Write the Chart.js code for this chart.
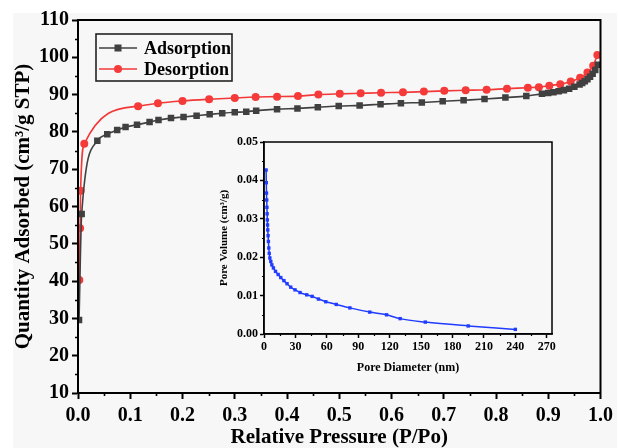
<!DOCTYPE html>
<html>
<head>
<meta charset="utf-8">
<script src="https://cdn.jsdelivr.net/npm/chart.js@4.4.1/dist/chart.umd.min.js"></script>
<style>
  html, body { margin: 0; padding: 0; background: #fff; }
  #wrap { position: relative; width: 618px; height: 448px; overflow: hidden; }
  #mainChart { position: absolute; left: 0; top: 0; }
  #poreChart { position: absolute; left: 200px; top: 130px; }
</style>
</head>
<body>
<div id="wrap">
  <canvas id="mainChart" width="618" height="448"></canvas>
  <canvas id="poreChart" width="360" height="245"></canvas>
</div>
<script>
// isotherm: relative pressure vs quantity adsorbed
const adsP = [0.002, 0.007, 0.037, 0.056, 0.075, 0.091, 0.113, 0.137, 0.154, 0.178, 0.202, 0.227, 0.252, 0.276, 0.300, 0.322, 0.341, 0.381, 0.420, 0.459, 0.499, 0.539, 0.579, 0.618, 0.658, 0.698, 0.738, 0.778, 0.818, 0.858, 0.888, 0.900, 0.910, 0.920, 0.930, 0.940, 0.950, 0.960, 0.965, 0.970, 0.975, 0.980, 0.985, 0.990, 0.995];
const adsQ = [29.6, 58.0, 77.6, 79.4, 80.5, 81.3, 81.9, 82.65, 83.2, 83.7, 84.0, 84.35, 84.7, 85.0, 85.25, 85.4, 85.7, 86.1, 86.3, 86.6, 86.95, 87.1, 87.4, 87.7, 87.9, 88.2, 88.5, 88.8, 89.2, 89.6, 90.2, 90.4, 90.6, 90.9, 91.2, 91.6, 92.1, 92.7, 93.1, 93.6, 94.1, 94.8, 95.6, 96.6, 98.0];

const desP = [0.0025, 0.004, 0.005, 0.012, 0.115, 0.153, 0.200, 0.251, 0.300, 0.340, 0.381, 0.421, 0.460, 0.501, 0.541, 0.580, 0.622, 0.662, 0.701, 0.742, 0.782, 0.821, 0.861, 0.882, 0.902, 0.923, 0.943, 0.961, 0.975, 0.986, 0.994];
const desQ = [40.3, 54.2, 64.2, 76.8, 86.9, 87.7, 88.3, 88.75, 89.1, 89.35, 89.45, 89.6, 90.0, 90.2, 90.35, 90.5, 90.6, 90.8, 91.0, 91.15, 91.3, 91.6, 91.85, 92.0, 92.4, 92.8, 93.5, 94.5, 95.9, 97.75, 100.6];

// pore size distribution (inset)
const poreD = [2.0, 2.2, 2.4, 2.6, 2.8, 3.0, 3.2, 3.4, 3.6, 3.9, 4.2, 4.6, 5.0, 5.6, 6.5, 7.5, 9, 11, 13.5, 16, 19, 22, 25.5, 29.6, 34.4, 40.8, 46, 52, 59, 69, 82, 101, 117, 130, 154, 195, 240];
const poreV = [0.0427, 0.0394, 0.0367, 0.0349, 0.0330, 0.0313, 0.0297, 0.0284, 0.0271, 0.0256, 0.0241, 0.0224, 0.0210, 0.0198, 0.0189, 0.0180, 0.0172, 0.0163, 0.0155, 0.0147, 0.0139, 0.0131, 0.0122, 0.0115, 0.0108, 0.0102, 0.0098, 0.0091, 0.0084, 0.0077, 0.0068, 0.0057, 0.0050, 0.0040, 0.0031, 0.0021, 0.0012];

// tick labels
const pTicks = [0, 0.1, 0.2, 0.3, 0.4, 0.5, 0.6, 0.7, 0.8, 0.9, 1.0];
const qTicks = [10, 20, 30, 40, 50, 60, 70, 80, 90, 100, 110];
const dTicks = [0, 30, 60, 90, 120, 150, 180, 210, 240, 270];
const vTicks = [0, 0.01, 0.02, 0.03, 0.04, 0.05];

const serif = "'Liberation Serif', 'Times New Roman', serif";
const toXY = (xs, ys) => xs.map((x, i) => ({ x: x, y: ys[i] }));

// frame, background and minor ticks
const framePlugin = {
  id: 'frame',
  beforeDraw(chart, args, opts) {
    if (!opts.bg) return;
    const ctx = chart.ctx;
    ctx.save();
    ctx.fillStyle = opts.bg;
    ctx.fillRect(opts.bgRect[0], opts.bgRect[1], opts.bgRect[2], opts.bgRect[3]);
    ctx.restore();
  },
  afterDraw(chart, args, opts) {
    const ctx = chart.ctx, a = chart.chartArea;
    const xs = chart.scales.x, ys = chart.scales.y;
    ctx.save();
    ctx.strokeStyle = '#000';
    ctx.lineWidth = opts.width;
    ctx.strokeRect(a.left, a.top, a.right - a.left, a.bottom - a.top);
    ctx.lineWidth = opts.minorWidth;
    ctx.beginPath();
    for (let i = 0; i < xs.ticks.length - 1; i++) {
      const px = Math.round(xs.getPixelForValue((xs.ticks[i].value + xs.ticks[i + 1].value) / 2)) + 0.5;
      ctx.moveTo(px, a.bottom);
      ctx.lineTo(px, a.bottom + opts.minorLen);
    }
    for (let i = 0; i < ys.ticks.length - 1; i++) {
      const py = Math.round(ys.getPixelForValue((ys.ticks[i].value + ys.ticks[i + 1].value) / 2)) + 0.5;
      ctx.moveTo(a.left, py);
      ctx.lineTo(a.left - opts.minorLen, py);
    }
    ctx.stroke();
    ctx.restore();
  }
};

// legend box drawn inside the plot
const boxLegend = {
  id: 'boxLegend',
  afterDraw(chart, args, opts) {
    const ctx = chart.ctx;
    ctx.save();
    ctx.strokeStyle = '#222';
    ctx.lineWidth = 1.6;
    ctx.strokeRect(opts.x, opts.y, opts.w, opts.h);
    ctx.font = 'bold 18px ' + serif;
    ctx.textBaseline = 'middle';
    ctx.fillStyle = '#000';
    chart.data.datasets.forEach((ds, i) => {
      const ry = opts.y + 14 + i * 21;
      ctx.strokeStyle = ds.borderColor;
      ctx.lineWidth = 1.6;
      ctx.beginPath();
      ctx.moveTo(opts.x + 3, ry);
      ctx.lineTo(opts.x + 41, ry);
      ctx.stroke();
      ctx.fillStyle = ds.pointBackgroundColor;
      const cx = opts.x + 22;
      if (ds.pointStyle === 'rect') {
        ctx.fillRect(cx - 3.5, ry - 3.5, 7, 7);
      } else {
        ctx.beginPath();
        ctx.arc(cx, ry, ds.pointRadius, 0, Math.PI * 2);
        ctx.fill();
      }
      ctx.fillStyle = '#000';
      ctx.fillText(ds.label, opts.x + 48, ry + 1);
    });
    ctx.restore();
  }
};

new Chart(document.getElementById('mainChart'), {
  type: 'scatter',
  data: {
    datasets: [
      {
        label: 'Adsorption',
        data: toXY(adsP, adsQ),
        showLine: true,
        borderColor: '#404040',
        backgroundColor: '#404040',
        pointBackgroundColor: '#404040',
        pointBorderWidth: 0,
        pointStyle: 'rect',
        pointRadius: 4.6,
        borderWidth: 1.6,
        cubicInterpolationMode: 'monotone'
      },
      {
        label: 'Desorption',
        data: toXY(desP, desQ),
        showLine: true,
        borderColor: '#f23838',
        backgroundColor: '#f23838',
        pointBackgroundColor: '#f53a3a',
        pointBorderWidth: 0,
        pointStyle: 'circle',
        pointRadius: 4,
        borderWidth: 1.6,
        cubicInterpolationMode: 'monotone'
      }
    ]
  },
  options: {
    responsive: false,
    animation: false,
    devicePixelRatio: 1,
    layout: { padding: { top: 20, right: 14, left: 0, bottom: 0 } },
    scales: {
      x: {
        type: 'linear',
        min: 0, max: 1,
        afterBuildTicks: s => { s.ticks = pTicks.map(v => ({ value: v })); },
        afterFit: s => { s.height = 55; },
        ticks: {
          autoSkip: false, maxRotation: 0, padding: 5, color: '#000',
          font: { family: serif, size: 20, weight: 'bold' },
          callback: v => v.toFixed(1)
        },
        grid: { drawOnChartArea: false, drawTicks: true, tickLength: 6, tickWidth: 2, tickColor: '#000' },
        border: { display: true, color: '#000', width: 2 },
        title: {
          display: true, text: 'Relative Pressure (P/Po)', color: '#000',
          font: { family: serif, size: 21, weight: 'bold', lineHeight: 1 },
          padding: { top: 0, bottom: 0 }
        }
      },
      y: {
        type: 'linear',
        min: 10, max: 110,
        afterBuildTicks: s => { s.ticks = qTicks.map(v => ({ value: v })); },
        afterFit: s => { s.width = 78; },
        ticks: {
          autoSkip: false, padding: 3, color: '#000',
          font: { family: serif, size: 20, weight: 'bold' },
          callback: v => String(v)
        },
        grid: { drawOnChartArea: false, drawTicks: true, tickLength: 6, tickWidth: 2, tickColor: '#000' },
        border: { display: true, color: '#000', width: 2 },
        title: {
          display: true, text: 'Quantity Adsorbed (cm\u00b3/g STP)', color: '#000',
          font: { family: serif, size: 21, weight: 'bold' },
          padding: { top: 11, bottom: 0 }
        }
      }
    },
    plugins: {
      legend: { display: false },
      tooltip: { enabled: false },
      frame: { bg: '#f7f7f7', bgRect: [13, 13, 604, 435], width: 2, minorWidth: 1.6, minorLen: 3 },
      boxLegend: { x: 96, y: 34, w: 136, h: 47 }
    }
  },
  plugins: [framePlugin, boxLegend]
});

new Chart(document.getElementById('poreChart'), {
  type: 'scatter',
  data: {
    datasets: [{
      label: 'Pore Volume',
      data: toXY(poreD, poreV),
      showLine: true,
      borderColor: '#1f3cff',
      backgroundColor: '#1f3cff',
      pointBackgroundColor: '#1f3cff',
      pointBorderWidth: 0,
      pointStyle: 'rect',
      pointRadius: 2.4,
      borderWidth: 1.5,
      cubicInterpolationMode: 'monotone'
    }]
  },
  options: {
    responsive: false,
    animation: false,
    devicePixelRatio: 1,
    layout: { padding: { top: 12, right: 8, left: 0, bottom: 0 } },
    scales: {
      x: {
        type: 'linear',
        min: 0, max: 275,
        afterBuildTicks: s => { s.ticks = dTicks.map(v => ({ value: v })); },
        afterFit: s => { s.height = 41; },
        ticks: {
          autoSkip: false, maxRotation: 0, padding: 2, color: '#000',
          font: { family: serif, size: 12, weight: 'bold' },
          callback: v => String(v)
        },
        grid: { drawOnChartArea: false, drawTicks: true, tickLength: 4, tickWidth: 1.5, tickColor: '#000' },
        border: { display: true, color: '#000', width: 1.5 },
        title: {
          display: true, text: 'Pore Diameter (nm)', color: '#000',
          font: { family: serif, size: 12, weight: 'bold' },
          padding: { top: 5, bottom: 0 }
        }
      },
      y: {
        type: 'linear',
        min: 0, max: 0.05,
        afterBuildTicks: s => { s.ticks = vTicks.map(v => ({ value: v })); },
        afterFit: s => { s.width = 64; },
        ticks: {
          autoSkip: false, padding: 2, color: '#000',
          font: { family: serif, size: 12, weight: 'bold' },
          callback: v => v.toFixed(2)
        },
        grid: { drawOnChartArea: false, drawTicks: true, tickLength: 4, tickWidth: 1.5, tickColor: '#000' },
        border: { display: true, color: '#000', width: 1.5 },
        title: {
          display: true, text: 'Pore Volume (cm\u00b3/g)', color: '#000',
          font: { family: serif, size: 11, weight: 'bold' },
          padding: { top: 18, bottom: 0 }
        }
      }
    },
    plugins: {
      legend: { display: false },
      tooltip: { enabled: false },
      frame: { width: 1.5, minorWidth: 1.2, minorLen: 2 }
    }
  },
  plugins: [framePlugin]
});
</script>
</body>
</html>
